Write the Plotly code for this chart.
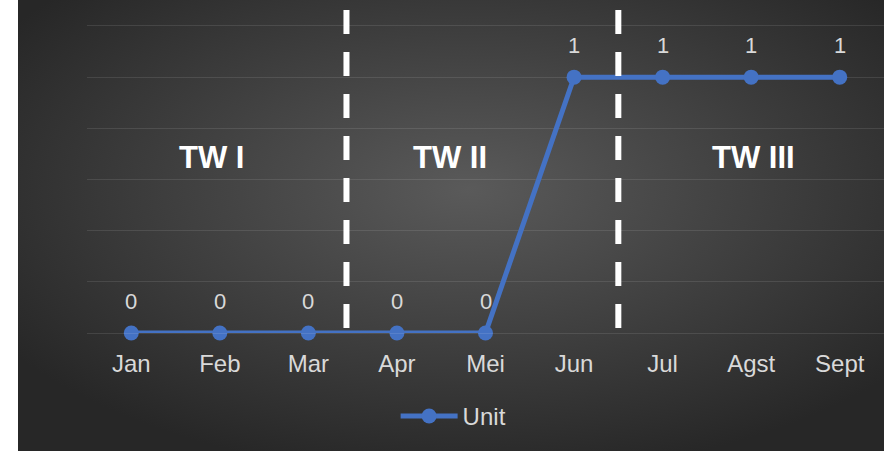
import plotly.graph_objects as go
import base64

# ---- data ----
months = ["Jan", "Feb", "Mar", "Apr", "Mei", "Jun", "Jul", "Agst", "Sept"]
unit_values = [0, 0, 0, 0, 0, 1, 1, 1, 1]
series_name = "Unit"
period_labels = ["TW I", "TW II", "TW III"]
period_label_x = [0.91, 3.6, 7.03]
period_label_y = [0.6875, 0.6875, 0.6875]
divider_x = [2.43, 5.5]

# ---- style ----
W, H = 884, 451
PL, PR, PT, PB = 87, 0, 10, 118
BG_LEFT = 18
LINE_COLOR = "#4472C4"
TEXT_COLOR = "#D9D9D9"
GRID_COLOR = "rgba(255,255,255,0.1)"
FONT = "Liberation Sans, Arial, sans-serif"
Y_MAX = 1.2625

svg = f'''<svg xmlns="http://www.w3.org/2000/svg" width="{W-BG_LEFT}" height="{H}" viewBox="0 0 {W-BG_LEFT} {H}" preserveAspectRatio="none">
<defs><radialGradient id="g" cx="52%" cy="42%" r="64%" fx="52%" fy="42%">
<stop offset="0%" stop-color="#5a5a5a"/><stop offset="100%" stop-color="#272727"/></radialGradient></defs>
<rect width="100%" height="100%" fill="url(#g)"/></svg>'''
src = "data:image/svg+xml;base64," + base64.b64encode(svg.encode()).decode()

plot_w = W - PL - PR
plot_h = H - PT - PB

fig = go.Figure()
fig.add_trace(go.Scatter(
    x=months, y=unit_values, mode="lines+markers", name=series_name,
    line=dict(color=LINE_COLOR, width=5),
    marker=dict(color=LINE_COLOR, size=15),
    cliponaxis=False, hoverinfo="skip",
))

# data labels
for m, v in zip(months, unit_values):
    fig.add_annotation(x=m, y=v, text=str(v), showarrow=False, yanchor="bottom",
                       yshift=17, font=dict(size=22, color=TEXT_COLOR, family=FONT))

# period labels
for t, px, py in zip(period_labels, period_label_x, period_label_y):
    fig.add_annotation(x=px, y=py, text=f"<b>{t}</b>", showarrow=False,
                       font=dict(size=31, color="#FFFFFF", family=FONT))

# dashed dividers
for dx in divider_x:
    fig.add_shape(type="line", xref="x", yref="y", x0=dx, x1=dx, y0=Y_MAX, y1=0.02,
                  line=dict(color="#FFFFFF", width=6, dash="24px,18px"), layer="above")

fig.add_layout_image(dict(
    source=src, xref="paper", yref="paper",
    x=(BG_LEFT - PL) / plot_w, y=(H - PB) / plot_h,
    sizex=(W - BG_LEFT) / plot_w, sizey=H / plot_h,
    xanchor="left", yanchor="top", sizing="stretch", layer="below",
))

fig.update_layout(
    width=W, height=H,
    margin=dict(l=PL, r=PR, t=PT, b=PB),
    paper_bgcolor="#FFFFFF", plot_bgcolor="rgba(0,0,0,0)",
    font=dict(family=FONT, color=TEXT_COLOR, size=24),
    showlegend=True,
    legend=dict(orientation="h", x=0.46, xanchor="center", y=-0.258, yanchor="middle",
                font=dict(size=24, color=TEXT_COLOR), bgcolor="rgba(0,0,0,0)",
                itemwidth=57),
    xaxis=dict(type="category", range=[-0.5, 8.5], showgrid=False, showline=True,
               linecolor=GRID_COLOR, linewidth=1, ticks="outside", ticklen=9,
               tickcolor="rgba(0,0,0,0)", tickfont=dict(size=24, color=TEXT_COLOR),
               fixedrange=True),
    yaxis=dict(range=[0, Y_MAX], dtick=0.2, tick0=0, showgrid=True, gridcolor=GRID_COLOR,
               gridwidth=1, zeroline=False, showticklabels=False, fixedrange=True),
)

fig.write_html("out.html", config={"displayModeBar": False},
               post_script="document.body.style.margin='0';document.body.style.overflow='hidden';")
